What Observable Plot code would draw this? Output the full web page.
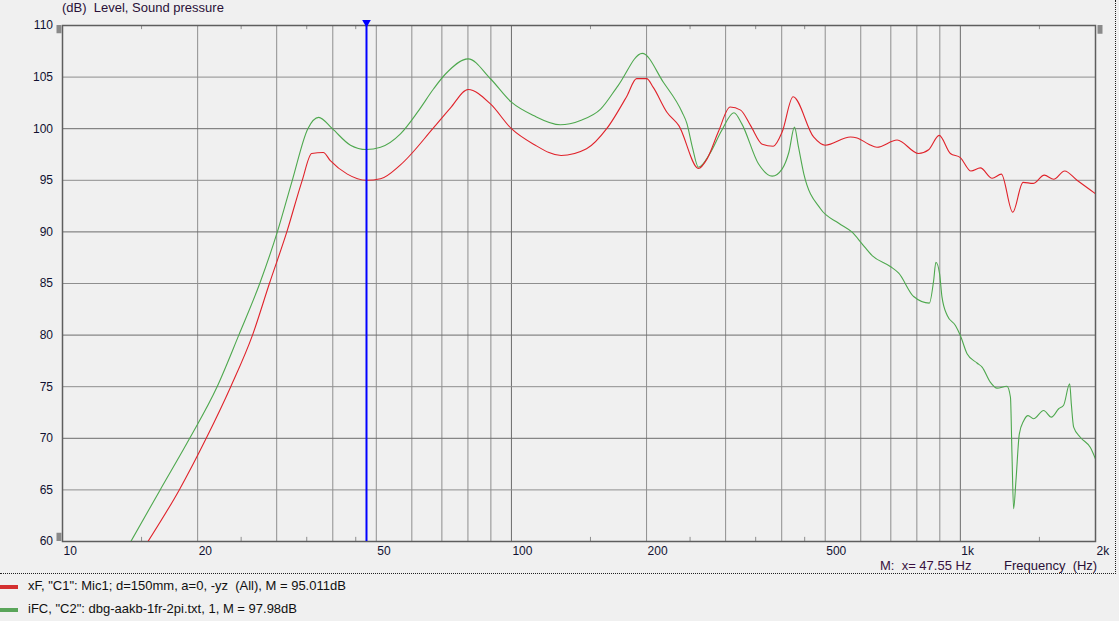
<!DOCTYPE html>
<html><head><meta charset="utf-8">
<script src="https://cdn.jsdelivr.net/npm/d3@7"></script>
<script src="https://cdn.jsdelivr.net/npm/@observablehq/plot@0.6"></script>
<style>
html,body{margin:0;padding:0;background:#f0f0f0;}
body{font-family:"Liberation Sans",Arial,sans-serif;}
#wrap{position:relative;width:1119px;height:621px;overflow:hidden;background:#f0f0f0;}
#chart{position:absolute;left:0;top:0;}
#title{position:absolute;left:62px;top:0px;font-size:13px;line-height:16px;color:#2a1038;white-space:pre;}
#mread{position:absolute;left:880px;top:559px;font-size:13px;line-height:13px;color:#3a1040;white-space:pre;}
#xlab{position:absolute;left:1004px;top:559px;font-size:13px;line-height:13px;color:#2a1038;white-space:pre;}
#sep{position:absolute;left:0;top:573px;width:1116px;height:0;border-top:1px dotted #202020;}
#vsep{position:absolute;left:1115px;top:0;width:0;height:574px;border-left:1px dotted #202020;}
.leg{position:absolute;left:0;font-size:13px;line-height:16px;color:#101010;white-space:pre;}
.sw{position:absolute;left:0;width:18px;height:4px;}
.lt{position:absolute;left:28px;}
</style></head>
<body>
<div id="wrap">
  <div id="chart"></div>
  <div id="title"></div>
  <div id="mread"></div>
  <div id="xlab"></div>
  <div id="sep"></div>
  <div id="vsep"></div>
  <div id="legend"></div>
</div>
<script>
// ---- data ----
const titleText = "(dB)  Level, Sound pressure";
const xAxisLabel = "Frequency  (Hz)";
const cursorFreq = 47.55;

const xTickValues = [10, 20, 50, 100, 200, 500, 1000, 2000];
const xTickLabels = ["10", "20", "50", "100", "200", "500", "1k", "2k"];
const yTickValues = [60, 65, 70, 75, 80, 85, 90, 95, 100, 105, 110];

const gridXLight = [20, 30, 40, 50, 60, 70, 80, 90, 200, 300, 400, 500, 600, 700, 800, 900];
const gridXDark = [100, 1000];
const gridYLight = [65, 75, 85, 95, 105];
const gridYDark = [70, 80, 90, 100];
const minorTicksX = [15, 25, 35, 45, 150, 250, 350, 450, 1500];

const seriesNames = ['xF, "C1": Mic1; d=150mm, a=0, -yz  (All), M = 95.011dB',
                     'iFC, "C2": dbg-aakb-1fr-2pi.txt, 1, M = 97.98dB'];

const redFreq = [15.5,18.2,20.9,23.7,26.5,28.9,31.6,34.2,35.9,38.1,39.5,43.1,47.5,51.1,56.6,67.1,73.1,80.1,89.8,100,112,129,147,163,181,190,200,207,222,236,261,273,289,307,324,341,362,383,401,424,471,500,569,589,625,652,723,807,850,897,950,1000,1056,1108,1177,1234,1308,1379,1452,1538,1614,1707,1819,2000];
const redDb = [60,65,70,75,80,85,90,95,97.6,97.7,96.9,95.6,95.0,95.15,96.5,100.1,102.0,103.8,102.4,100,98.5,97.4,98.05,100,103.2,104.85,104.85,104.0,101.6,100.3,96.15,97.1,99.7,102.1,101.8,100.3,98.5,98.3,99.7,103.1,99.2,98.4,99.2,99.1,98.5,98.2,98.9,97.6,97.96,99.35,97.6,97.2,95.9,96.2,95.2,95.6,91.9,94.8,94.7,95.5,95.1,95.9,95.0,93.7];

const greenFreq = [14.2,16.5,19.2,22.1,24.7,27.5,30.1,32.5,35.2,37.2,39.9,43.8,47.5,51.1,56.6,62,67.1,71.3,80.1,89.8,100,112,128.5,142.5,158,173,195.6,218,240,246,253,261,277,294,313,326,355,381,401,415,427,436,448,488,536,574,604,636,698,729,787,853,872,882,899,910,935,975,1000,1035,1089,1118,1166,1207,1270,1293,1303,1314,1330,1353,1384,1415,1455,1533,1595,1656,1698,1752,1767,1788,1850,1948,2000];
const greenDb = [60,65,70,75,80,85,90,95,100,101.1,100,98.4,97.98,98.2,99.5,101.7,103.87,105.3,106.77,104.84,102.57,101.28,100.38,100.8,101.9,104.2,107.3,104.5,101.6,100.5,98.2,96.27,97.63,99.83,101.54,100.47,96.6,95.4,96.11,97.72,100.15,98.21,95.63,92.24,90.84,89.97,88.85,87.71,86.65,86.0,83.74,83.1,85.3,87.06,85.94,83.7,81.9,80.93,79.96,78.2,77.3,76.9,75.44,74.86,75.05,73.98,68.5,63.17,65.9,70.4,71.7,72.2,71.9,72.7,72.05,72.86,73.2,75.28,73.3,71.08,70.1,69.1,68.0];

const redColor = "#e0222a";
const greenColor = "#4ea84e";

// ---- build ----
const red = redFreq.map((f, i) => ({f, db: redDb[i]}));
const green = greenFreq.map((f, i) => ({f, db: greenDb[i]}));
const xDom = [xTickValues[0], xTickValues[xTickValues.length - 1]];
const yDom = [yTickValues[0], yTickValues[yTickValues.length - 1]];
const ticks = xTickValues.map((v, i) => ({v, label: xTickLabels[i]}));

const chart = Plot.plot({
  width: 1119,
  height: 574,
  marginLeft: 62,
  marginRight: 24,
  marginTop: 25,
  marginBottom: 33,
  x: {type: "log", domain: xDom, axis: null},
  y: {domain: yDom, axis: null},
  style: {background: "transparent", fontFamily: "'Liberation Sans', Arial, sans-serif", fontSize: "12px", overflow: "visible"},
  marks: [
    Plot.ruleX(gridXLight, {stroke: "#8e8e8e", strokeWidth: 1}),
    Plot.ruleX(gridXDark, {stroke: "#6c6c6c", strokeWidth: 1}),
    Plot.ruleY(gridYLight, {stroke: "#8e8e8e", strokeWidth: 1}),
    Plot.ruleY(gridYDark, {stroke: "#6c6c6c", strokeWidth: 1}),
    Plot.ruleX(minorTicksX, {y1: yDom[1], y2: yDom[1] - 0.4, stroke: "#8e8e8e"}),
    Plot.ruleX(minorTicksX, {y1: yDom[0], y2: yDom[0] + 0.4, stroke: "#8e8e8e"}),
    Plot.frame({stroke: "#5e5e5e", strokeWidth: 1.5}),
    Plot.line(green, {x: "f", y: "db", stroke: greenColor, strokeWidth: 1.1, curve: "monotone-x", clip: true}),
    Plot.line(red, {x: "f", y: "db", stroke: redColor, strokeWidth: 1.1, curve: "monotone-x", clip: true}),
    Plot.ruleX([cursorFreq], {stroke: "#0000ff", strokeWidth: 2}),
    Plot.dot([cursorFreq], {x: d => d, y: () => yDom[1], symbol: "triangle", rotate: 180, r: 3.2, fill: "#0000ff", stroke: "none", dy: -3}),
    // range handles
    Plot.ruleX([xDom[0]], {y1: yDom[1], y2: yDom[1] - 0.8, stroke: "#8a8a8a", strokeWidth: 5, dx: -3.5}),
    Plot.ruleX([xDom[0]], {y1: yDom[0], y2: yDom[0] + 0.8, stroke: "#8a8a8a", strokeWidth: 5, dx: -3.5}),
    Plot.ruleX([xDom[1]], {y1: yDom[1], y2: yDom[1] - 0.85, stroke: "#8a8a8a", strokeWidth: 5, dx: 4.5}),
    // tick labels
    Plot.text(ticks, {x: "v", y: () => yDom[0], text: "label", textAnchor: "start", dx: 1, dy: 10, fill: "#101030", lineAnchor: "middle"}),
    Plot.text(yTickValues, {x: () => xDom[0], y: d => d, text: d => String(d), textAnchor: "end", dx: -9.5, fill: "#101030", lineAnchor: "middle"})
  ]
});
document.getElementById("chart").appendChild(chart);

document.getElementById("title").textContent = titleText;
document.getElementById("mread").textContent = "M:  x= " + cursorFreq + " Hz";
document.getElementById("xlab").textContent = xAxisLabel;

const leg = document.getElementById("legend");
const tops = [578, 601];
seriesNames.forEach((name, i) => {
  const row = document.createElement("div");
  row.className = "leg";
  row.style.top = tops[i] + "px";
  row.style.width = "700px";
  row.style.height = "16px";
  const sw = document.createElement("div");
  sw.className = "sw";
  sw.style.background = i === 0 ? "#d43030" : "#5aa55a";
  sw.style.top = "7px";
  const t = document.createElement("div");
  t.className = "lt";
  t.textContent = name;
  row.appendChild(sw);
  row.appendChild(t);
  leg.appendChild(row);
});
</script>
</body></html>
